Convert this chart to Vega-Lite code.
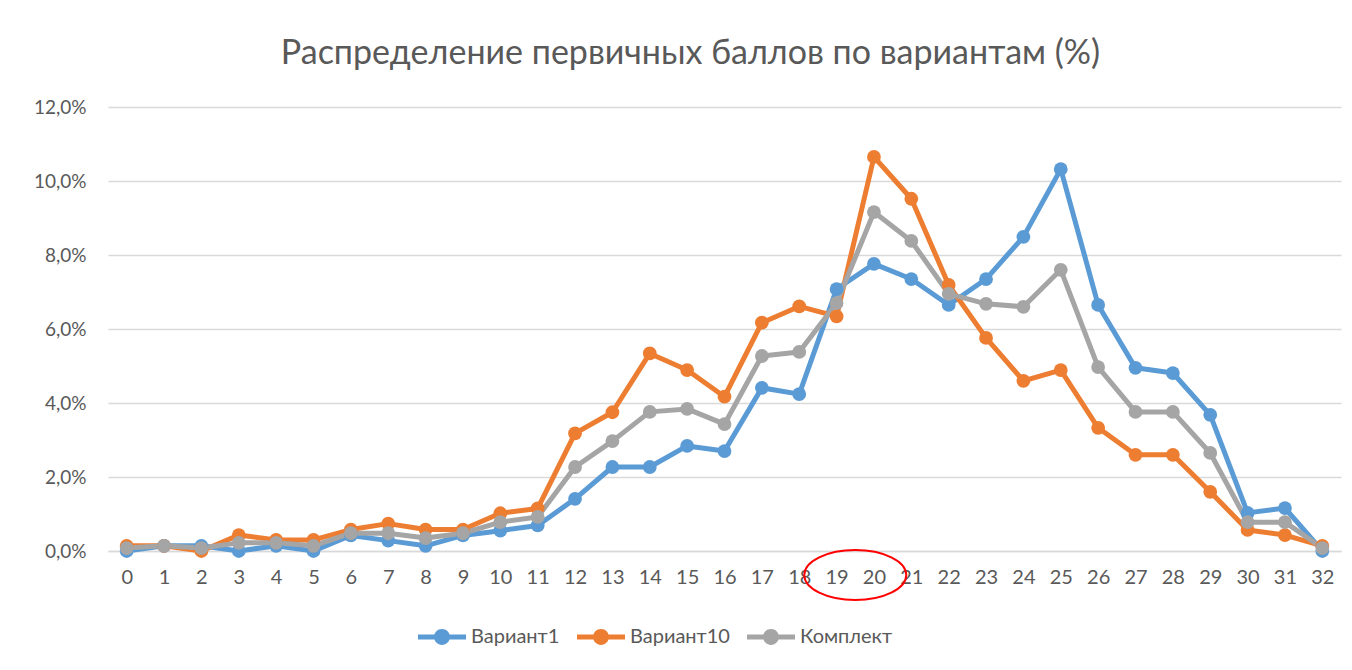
{
  "$schema": "https://vega.github.io/schema/vega-lite/v6.json",
  "autosize": "none",
  "width": 1233,
  "height": 444,
  "padding": {"left": 108, "top": 107, "right": 11, "bottom": 119},
  "background": "white",
  "config": {
    "font": "Lato",
    "view": {"stroke": null},
    "axis": {"labelColor": "#595959", "labelFontSize": 20, "labelFont": "Lato", "titleFontSize": 0, "labelOverlap": false, "labelFlush": false},
    "axisX": {"labelOverlap": false, "labelFlush": false, "labelSeparation": 0}
  },
  "title": {
    "text": "Распределение первичных баллов по вариантам (%)",
    "font": "Lato",
    "fontSize": 34,
    "fontWeight": "normal",
    "color": "#595959",
    "anchor": "middle",
    "frame": "group",
    "dx": -34,
    "baseline": "alphabetic",
    "offset": 0
  },
  "datasets": {
    "series": [
      {"score": 0, "series": "Вариант1", "value": 0.0},
      {"score": 1, "series": "Вариант1", "value": 0.14},
      {"score": 2, "series": "Вариант1", "value": 0.14},
      {"score": 3, "series": "Вариант1", "value": 0.0},
      {"score": 4, "series": "Вариант1", "value": 0.14},
      {"score": 5, "series": "Вариант1", "value": 0.0},
      {"score": 6, "series": "Вариант1", "value": 0.42},
      {"score": 7, "series": "Вариант1", "value": 0.28},
      {"score": 8, "series": "Вариант1", "value": 0.14},
      {"score": 9, "series": "Вариант1", "value": 0.42},
      {"score": 10, "series": "Вариант1", "value": 0.55},
      {"score": 11, "series": "Вариант1", "value": 0.69},
      {"score": 12, "series": "Вариант1", "value": 1.41},
      {"score": 13, "series": "Вариант1", "value": 2.27},
      {"score": 14, "series": "Вариант1", "value": 2.27},
      {"score": 15, "series": "Вариант1", "value": 2.84},
      {"score": 16, "series": "Вариант1", "value": 2.7},
      {"score": 17, "series": "Вариант1", "value": 4.41},
      {"score": 18, "series": "Вариант1", "value": 4.24},
      {"score": 19, "series": "Вариант1", "value": 7.08},
      {"score": 20, "series": "Вариант1", "value": 7.76},
      {"score": 21, "series": "Вариант1", "value": 7.35},
      {"score": 22, "series": "Вариант1", "value": 6.65},
      {"score": 23, "series": "Вариант1", "value": 7.35},
      {"score": 24, "series": "Вариант1", "value": 8.49},
      {"score": 25, "series": "Вариант1", "value": 10.32},
      {"score": 26, "series": "Вариант1", "value": 6.65},
      {"score": 27, "series": "Вариант1", "value": 4.95},
      {"score": 28, "series": "Вариант1", "value": 4.81},
      {"score": 29, "series": "Вариант1", "value": 3.68},
      {"score": 30, "series": "Вариант1", "value": 1.03},
      {"score": 31, "series": "Вариант1", "value": 1.16},
      {"score": 32, "series": "Вариант1", "value": 0.0},
      {"score": 0, "series": "Вариант10", "value": 0.14},
      {"score": 1, "series": "Вариант10", "value": 0.14},
      {"score": 2, "series": "Вариант10", "value": 0.0},
      {"score": 3, "series": "Вариант10", "value": 0.43},
      {"score": 4, "series": "Вариант10", "value": 0.3},
      {"score": 5, "series": "Вариант10", "value": 0.3},
      {"score": 6, "series": "Вариант10", "value": 0.58},
      {"score": 7, "series": "Вариант10", "value": 0.74},
      {"score": 8, "series": "Вариант10", "value": 0.58},
      {"score": 9, "series": "Вариант10", "value": 0.58},
      {"score": 10, "series": "Вариант10", "value": 1.02},
      {"score": 11, "series": "Вариант10", "value": 1.15},
      {"score": 12, "series": "Вариант10", "value": 3.18},
      {"score": 13, "series": "Вариант10", "value": 3.75},
      {"score": 14, "series": "Вариант10", "value": 5.34},
      {"score": 15, "series": "Вариант10", "value": 4.89},
      {"score": 16, "series": "Вариант10", "value": 4.17},
      {"score": 17, "series": "Вариант10", "value": 6.17},
      {"score": 18, "series": "Вариант10", "value": 6.61},
      {"score": 19, "series": "Вариант10", "value": 6.34},
      {"score": 20, "series": "Вариант10", "value": 10.65},
      {"score": 21, "series": "Вариант10", "value": 9.52},
      {"score": 22, "series": "Вариант10", "value": 7.19},
      {"score": 23, "series": "Вариант10", "value": 5.76},
      {"score": 24, "series": "Вариант10", "value": 4.6},
      {"score": 25, "series": "Вариант10", "value": 4.89},
      {"score": 26, "series": "Вариант10", "value": 3.33},
      {"score": 27, "series": "Вариант10", "value": 2.6},
      {"score": 28, "series": "Вариант10", "value": 2.6},
      {"score": 29, "series": "Вариант10", "value": 1.6},
      {"score": 30, "series": "Вариант10", "value": 0.57},
      {"score": 31, "series": "Вариант10", "value": 0.43},
      {"score": 32, "series": "Вариант10", "value": 0.14},
      {"score": 0, "series": "Комплект", "value": 0.08},
      {"score": 1, "series": "Комплект", "value": 0.14},
      {"score": 2, "series": "Комплект", "value": 0.08},
      {"score": 3, "series": "Комплект", "value": 0.22},
      {"score": 4, "series": "Комплект", "value": 0.22},
      {"score": 5, "series": "Комплект", "value": 0.14},
      {"score": 6, "series": "Комплект", "value": 0.48},
      {"score": 7, "series": "Комплект", "value": 0.48},
      {"score": 8, "series": "Комплект", "value": 0.35},
      {"score": 9, "series": "Комплект", "value": 0.48},
      {"score": 10, "series": "Комплект", "value": 0.78},
      {"score": 11, "series": "Комплект", "value": 0.92},
      {"score": 12, "series": "Комплект", "value": 2.27},
      {"score": 13, "series": "Комплект", "value": 2.97},
      {"score": 14, "series": "Комплект", "value": 3.76},
      {"score": 15, "series": "Комплект", "value": 3.84},
      {"score": 16, "series": "Комплект", "value": 3.43},
      {"score": 17, "series": "Комплект", "value": 5.27},
      {"score": 18, "series": "Комплект", "value": 5.38},
      {"score": 19, "series": "Комплект", "value": 6.7},
      {"score": 20, "series": "Комплект", "value": 9.16},
      {"score": 21, "series": "Комплект", "value": 8.38},
      {"score": 22, "series": "Комплект", "value": 6.95},
      {"score": 23, "series": "Комплект", "value": 6.68},
      {"score": 24, "series": "Комплект", "value": 6.6},
      {"score": 25, "series": "Комплект", "value": 7.6},
      {"score": 26, "series": "Комплект", "value": 4.97},
      {"score": 27, "series": "Комплект", "value": 3.76},
      {"score": 28, "series": "Комплект", "value": 3.76},
      {"score": 29, "series": "Комплект", "value": 2.65},
      {"score": 30, "series": "Комплект", "value": 0.78},
      {"score": 31, "series": "Комплект", "value": 0.78},
      {"score": 32, "series": "Комплект", "value": 0.08}
    ],
    "highlight": [{"score": 19.5, "value": -0.65}]
  },
  "layer": [
    {
      "data": {"name": "series"},
      "mark": {"type": "line", "strokeWidth": 5, "strokeCap": "round", "strokeJoin": "round"},
      "encoding": {
        "x": {
          "field": "score", "type": "quantitative",
          "scale": {"domain": [-0.5, 32.5], "nice": false, "zero": false},
          "axis": {
            "values": [0,1,2,3,4,5,6,7,8,9,10,11,12,13,14,15,16,17,18,19,20,21,22,23,24,25,26,27,28,29,30,31,32],
            "tickCount": 33,
            "labelExpr": "format(datum.value, 'd')",
            "grid": false, "ticks": false, "domain": true,
            "labelOverlap": false, "labelFlush": false,
            "domainColor": "#d9d9d9", "domainWidth": 1.5, "labelPadding": 16, "title": null
          }
        },
        "y": {
          "field": "value", "type": "quantitative",
          "scale": {"domain": [0, 12], "nice": false},
          "axis": {
            "values": [0,2,4,6,8,10,12],
            "labelExpr": "replace(format(datum.value, '.1f'), '.', ',') + '%'",
            "labelOverlap": false,
            "labelFontSize": 19,
            "grid": true, "gridColor": "#d9d9d9", "gridWidth": 1.5,
            "ticks": false, "domain": false, "labelPadding": 22, "title": null
          }
        },
        "color": {
          "field": "series", "type": "nominal",
          "scale": {"domain": ["Вариант1", "Вариант10", "Комплект"], "range": ["#5B9BD5", "#ED7D31", "#A5A5A5"]},
          "legend": {
            "orient": "none",
            "legendX": 310,
            "legendY": 506,
            "direction": "horizontal",
            "title": null,
            "symbolType": "M -1 -0.1 L 1 -0.1 L 1 0.1 L -1 0.1 Z M 0.33 0 A 0.33 0.33 0 1 1 -0.33 0 A 0.33 0.33 0 1 1 0.33 0 Z",
            "symbolSize": 2304,
            "symbolStrokeWidth": 0,
            "labelFontSize": 20,
            "labelColor": "#595959",
            "labelFont": "Lato",
            "labelOffset": 5,
            "columnPadding": 17,
            "encode": {"symbols": {"update": {"fill": {"field": "value", "scale": "color"}, "fillOpacity": {"value": 1}}}}
          }
        }
      }
    },
    {
      "data": {"name": "series"},
      "mark": {"type": "point", "filled": true, "size": 190, "opacity": 1},
      "encoding": {
        "x": {"field": "score", "type": "quantitative"},
        "y": {"field": "value", "type": "quantitative"},
        "color": {"field": "series", "type": "nominal"}
      }
    },
    {
      "data": {"name": "highlight"},
      "mark": {
        "type": "point", "filled": false, "stroke": "#FF0000", "strokeWidth": 2, "opacity": 1,
        "shape": "M -1 0 A 1 0.49 0 1 0 1 0 A 1 0.49 0 1 0 -1 0 Z",
        "size": 10404
      },
      "encoding": {
        "x": {"field": "score", "type": "quantitative"},
        "y": {"field": "value", "type": "quantitative"}
      }
    }
  ]
}
